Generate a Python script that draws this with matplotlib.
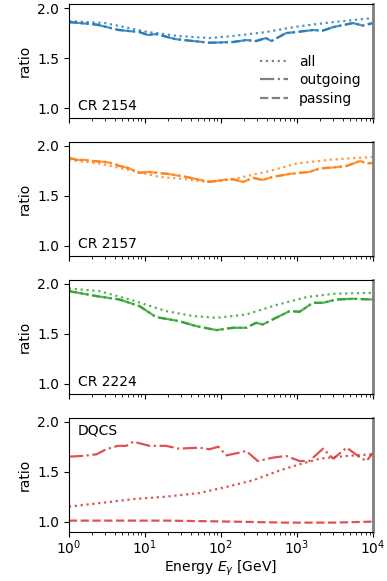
import matplotlib
matplotlib.use("Agg")
import matplotlib.pyplot as plt

# Photon energies [GeV] and ratio curves per model
e_2154_all = [1, 3, 11, 28, 71, 143, 390, 1000, 3000, 10000]
r_2154_all = [1.87, 1.85, 1.76, 1.72, 1.70, 1.72, 1.76, 1.815, 1.86, 1.90]
e_2154_pass = [1, 2.3, 4.6, 8.5, 11, 14, 25, 43, 71, 143, 215, 290, 390, 460, 720, 980, 1620, 2200, 3000, 5450, 7300, 10000]
r_2154_pass = [1.86, 1.835, 1.78, 1.76, 1.73, 1.74, 1.69, 1.67, 1.653, 1.66, 1.68, 1.67, 1.70, 1.67, 1.75, 1.76, 1.78, 1.775, 1.81, 1.85, 1.825, 1.85]
r_2154_out = [1.86, 1.835, 1.78, 1.76, 1.73, 1.74, 1.69, 1.67, 1.653, 1.66, 1.68, 1.67, 1.70, 1.67, 1.75, 1.76, 1.78, 1.775, 1.81, 1.85, 1.825, 1.85]

e_2157_all = [1, 2.5, 7, 15.5, 35, 64, 143, 390, 1000, 3000, 10000]
r_2157_all = [1.86, 1.825, 1.75, 1.69, 1.667, 1.64, 1.667, 1.74, 1.825, 1.865, 1.89]
e_2157_pass = [1, 1.3, 1.65, 2.0, 3.0, 4.0, 4.6, 6.0, 8.5, 11, 20, 35, 71, 107, 143, 195, 265, 355, 480, 800, 1450, 2000, 3000, 4500, 6800, 8200, 10000]
r_2157_pass = [1.88, 1.86, 1.86, 1.85, 1.84, 1.82, 1.80, 1.78, 1.73, 1.74, 1.72, 1.69, 1.64, 1.66, 1.667, 1.64, 1.68, 1.66, 1.69, 1.72, 1.74, 1.775, 1.785, 1.80, 1.85, 1.825, 1.83]
r_2157_out = r_2157_pass

e_2224_all = [1, 2.5, 7, 19, 43, 87, 215, 530, 1330, 3000, 10000]
r_2224_all = [1.953, 1.927, 1.833, 1.727, 1.677, 1.66, 1.693, 1.787, 1.867, 1.90, 1.91]
e_2224_pass = [1, 2.3, 4.6, 8.5, 14, 28, 47, 87, 143, 215, 290, 355, 530, 800, 1080, 1620, 2200, 3300, 5450, 10000]
r_2224_pass = [1.927, 1.877, 1.843, 1.777, 1.667, 1.627, 1.577, 1.537, 1.56, 1.56, 1.61, 1.593, 1.66, 1.727, 1.72, 1.81, 1.81, 1.843, 1.85, 1.843]
r_2224_out = r_2224_pass

e_dqcs_all = [1, 2.5, 7, 19, 52, 118, 265, 590, 1080, 2000, 4500, 10000]
r_dqcs_all = [1.15, 1.185, 1.225, 1.25, 1.286, 1.347, 1.414, 1.512, 1.573, 1.63, 1.657, 1.673]
e_dqcs_out = [1, 1.5, 2.3, 3.1, 4.4, 5.7, 7, 11.5, 19, 28, 52, 71, 92, 118, 175, 215, 305, 480, 720, 1080, 1450, 2200, 3000, 4500, 6800, 8200, 10000]
r_dqcs_out = [1.65, 1.657, 1.673, 1.724, 1.758, 1.758, 1.80, 1.758, 1.758, 1.73, 1.74, 1.724, 1.75, 1.663, 1.69, 1.707, 1.606, 1.64, 1.657, 1.606, 1.606, 1.73, 1.63, 1.74, 1.64, 1.606, 1.69]
e_dqcs_pass = [1, 19, 143, 700, 3000, 10000]
r_dqcs_pass = [1.01, 1.01, 1.0, 0.99, 0.99, 1.0]

panels = [
    ("CR 2154", "C0", (e_2154_all, r_2154_all), (e_2154_pass, r_2154_out), (e_2154_pass, r_2154_pass)),
    ("CR 2157", "C1", (e_2157_all, r_2157_all), (e_2157_pass, r_2157_out), (e_2157_pass, r_2157_pass)),
    ("CR 2224", "C2", (e_2224_all, r_2224_all), (e_2224_pass, r_2224_out), (e_2224_pass, r_2224_pass)),
    ("DQCS", "C3", (e_dqcs_all, r_dqcs_all), (e_dqcs_out, r_dqcs_out), (e_dqcs_pass, r_dqcs_pass)),
]

fig, axes = plt.subplots(4, 1, figsize=(3.87, 5.81), dpi=100, sharex=True)
fig.subplots_adjust(left=0.178, right=0.964, top=0.993, bottom=0.085, hspace=0.21)

for i, (ax, (name, col, a, o, p)) in enumerate(zip(axes, panels)):
    ax.plot(a[0], a[1], ls=":", color=col, lw=1.6, alpha=0.8)
    ax.plot(o[0], o[1], ls="-.", color=col, lw=1.6, alpha=0.8)
    ax.plot(p[0], p[1], ls="--", color=col, lw=1.6, alpha=0.8)
    ax.set_xscale("log")
    ax.set_xlim(1, 1e4)
    ax.set_ylim(0.9, 2.04)
    ax.set_yticks([1.0, 1.5, 2.0])
    ax.set_ylabel("ratio")
    ax.spines["right"].set_color("gray")
    ax.spines["right"].set_linewidth(2)
    if name == "DQCS":
        ax.text(0.03, 0.95, name, transform=ax.transAxes, ha="left", va="top")
    else:
        ax.text(0.03, 0.04, name, transform=ax.transAxes, ha="left", va="bottom")

h1, = axes[0].plot([], [], ls=":", color="gray", lw=1.6)
h2, = axes[0].plot([], [], ls="-.", color="gray", lw=1.6)
h3, = axes[0].plot([], [], ls="--", color="gray", lw=1.6)
axes[0].legend([h1, h2, h3], ["all", "outgoing", "passing"], loc="lower right",
               frameon=False, handlelength=2.0, labelspacing=0.3)

axes[-1].tick_params(axis="x", pad=1.5)
axes[-1].set_xlabel(r"Energy $E_\gamma$ [GeV]", labelpad=1)

fig.savefig("out.png", dpi=100)
